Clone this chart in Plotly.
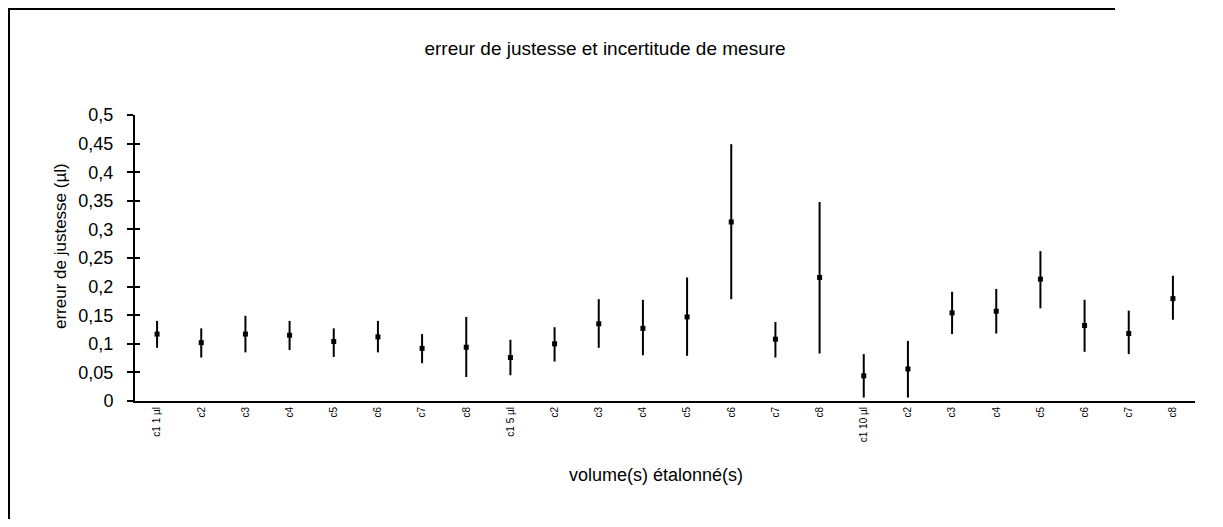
import plotly.graph_objects as go

labels = ["c1 1 µl", "c2", "c3", "c4", "c5", "c6", "c7", "c8",
          "c1 5 µl", "c2", "c3", "c4", "c5", "c6", "c7", "c8",
          "c1 10 µl", "c2", "c3", "c4", "c5", "c6", "c7", "c8"]
erreur = [0.117, 0.102, 0.117, 0.115, 0.104, 0.112, 0.092, 0.094,
          0.076, 0.100, 0.135, 0.127, 0.147, 0.313, 0.108, 0.216,
          0.044, 0.056, 0.154, 0.157, 0.213, 0.132, 0.118, 0.179]
borne_haute = [0.140, 0.127, 0.149, 0.140, 0.127, 0.140, 0.117, 0.147,
               0.107, 0.129, 0.178, 0.177, 0.216, 0.449, 0.138, 0.348,
               0.082, 0.105, 0.191, 0.196, 0.262, 0.177, 0.158, 0.219]
borne_basse = [0.093, 0.076, 0.085, 0.089, 0.077, 0.085, 0.066, 0.042,
               0.045, 0.069, 0.093, 0.080, 0.079, 0.178, 0.076, 0.083,
               0.006, 0.006, 0.117, 0.118, 0.162, 0.086, 0.082, 0.142]
y_ticks = [0, 0.05, 0.1, 0.15, 0.2, 0.25, 0.3, 0.35, 0.4, 0.45, 0.5]
y_ticktext = ["0", "0,05", "0,1", "0,15", "0,2", "0,25", "0,3", "0,35", "0,4", "0,45", "0,5"]

idx = list(range(len(labels)))
plus = [h - m for h, m in zip(borne_haute, erreur)]
minus = [m - b for m, b in zip(erreur, borne_basse)]

FONT = "Liberation Sans, Arial, sans-serif"

# figure sits inside the page's 8px body margin; keep it small enough to avoid scrollbars
W, H = 1207, 511
L, T, R, B = 127, 107, 20, 118
PW, PH = W - L - R, H - T - B

def px_x(x):  # figure px -> paper x
    return (x - L) / PW

def px_y(y):  # figure px -> paper y
    return (H - B - y) / PH

fig = go.Figure()
fig.add_trace(go.Scatter(
    x=idx, y=erreur, mode="markers",
    marker=dict(symbol="square", size=5, color="black"),
    error_y=dict(type="data", symmetric=False, array=plus, arrayminus=minus,
                 color="black", thickness=2, width=0),
    showlegend=False,
))
# invisible trace on second y-axis for crossing ticks
fig.add_trace(go.Scatter(x=[idx[0]], y=[erreur[0]], yaxis="y2", mode="markers",
                         marker=dict(opacity=0), showlegend=False, hoverinfo="skip"))

fig.update_layout(
    width=W, height=H,
    margin=dict(l=L, r=R, t=T, b=B),
    paper_bgcolor="white", plot_bgcolor="white",
    font=dict(family=FONT, color="black"),
    title=dict(text="erreur de justesse et incertitude de mesure",
               x=597 / W, xref="container", xanchor="center",
               y=1 - 40 / H, yref="container", yanchor="middle",
               font=dict(size=19, color="black")),
    xaxis=dict(range=[-0.5, len(labels) - 0.5], tickmode="array",
               tickvals=idx, ticktext=labels, tickangle=-90,
               tickfont=dict(size=10), ticks="", showgrid=False, zeroline=False,
               showline=True, linecolor="black", linewidth=2),
    yaxis=dict(range=[0, 0.5], tickmode="array", tickvals=y_ticks, ticktext=y_ticktext,
               tickfont=dict(size=18), ticks="outside", ticklen=6, tickwidth=1.5,
               tickcolor="black", ticklabelstandoff=10, showgrid=False, zeroline=False,
               showline=True, linecolor="black", linewidth=2),
    yaxis2=dict(range=[0, 0.5], overlaying="y", side="left", tickmode="array",
                tickvals=y_ticks, showticklabels=False, ticks="inside", ticklen=5,
                tickwidth=1.5, tickcolor="black", showgrid=False, zeroline=False,
                showline=False),
    annotations=[
        dict(text="erreur de justesse (µl)", textangle=-90, showarrow=False,
             xref="paper", yref="paper", x=px_x(52), y=px_y(238),
             xanchor="center", yanchor="middle", font=dict(size=17)),
        dict(text="volume(s) étalonné(s)", showarrow=False,
             xref="paper", yref="paper", x=px_x(648), y=px_y(467),
             xanchor="center", yanchor="middle", font=dict(size=18)),
    ],
    shapes=[
        dict(type="path", xref="paper", yref="paper",
             path="M {x0},{y0} L {x0},{y1} L {x2},{y1}".format(
                 x0=px_x(1), y0=px_y(H), y1=px_y(1), x2=px_x(W - 100)),
             line=dict(color="black", width=2), fillcolor="rgba(0,0,0,0)"),
    ],
)

fig.write_html("out.html")
